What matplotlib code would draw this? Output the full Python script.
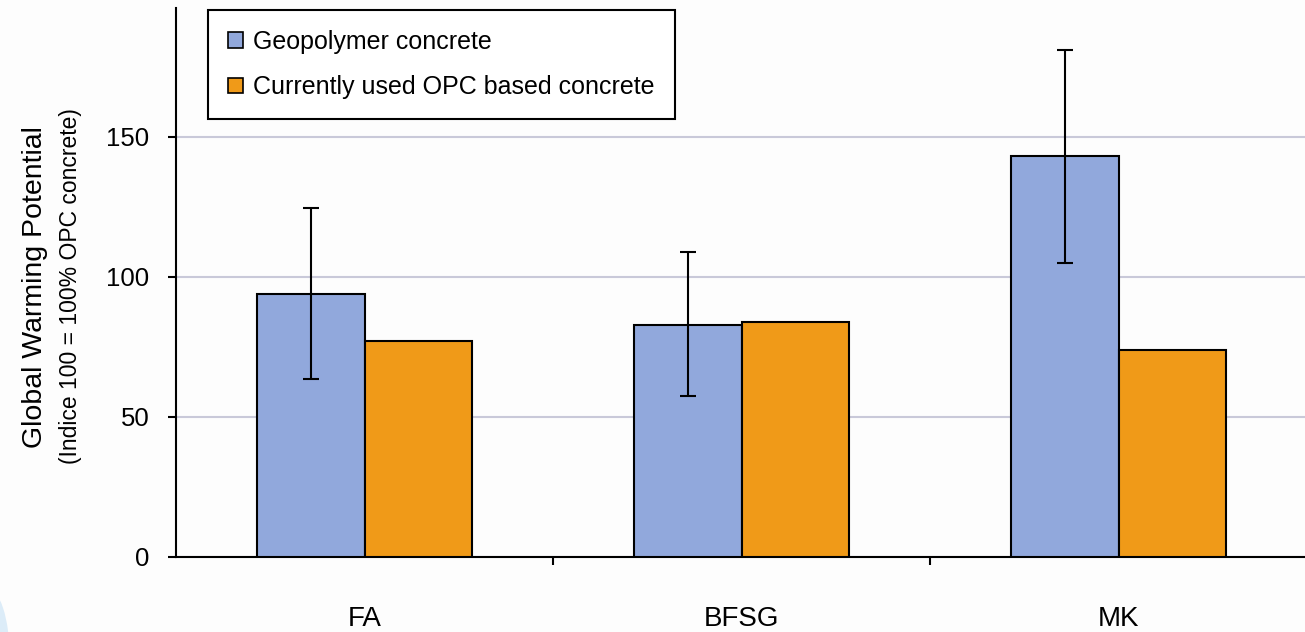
import numpy as np
import matplotlib
matplotlib.use("Agg")
import matplotlib.pyplot as plt
from matplotlib.patches import Ellipse, Patch

plt.rcParams['font.family'] = ['Liberation Sans', 'DejaVu Sans']

categories = ['FA', 'BFSG', 'MK']
geopolymer = [94, 83, 143]
geo_low = [63.5, 57.5, 105]
geo_high = [124.5, 109, 181]
opc = [77, 84, 74]

blue = '#91a8dc'
orange = '#f09a18'

fig = plt.figure(figsize=(13.05, 6.32), dpi=100)
fig.patch.set_facecolor('#fdfdfd')

# faint swirl in the lower left corner
fig.patches.append(Ellipse((-0.01, -0.04), 0.035, 0.22, transform=fig.transFigure,
                           facecolor='#dcecf8', edgecolor='none', zorder=0))

ax = fig.add_axes([176 / 1305, 75 / 632, 1131 / 1305, 549 / 632])
ax.set_facecolor('none')

x = np.arange(len(categories))
w = 0.285
geo = np.array(geopolymer)
yerr = [geo - np.array(geo_low), np.array(geo_high) - geo]

ax.bar(x - w / 2, geopolymer, w, color=blue, edgecolor='black', linewidth=1.5, zorder=3)
ax.bar(x + w / 2, opc, w, color=orange, edgecolor='black', linewidth=1.5, zorder=3)
ax.errorbar(x - w / 2, geopolymer, yerr=yerr, fmt='none', ecolor='black',
            elinewidth=1.5, capsize=6, capthick=1.5, zorder=4)

ax.set_xlim(-0.5, 2.5)
ax.set_ylim(0, 196)
ax.set_yticks([0, 50, 100, 150])
ax.yaxis.grid(True, color='#c9c9d9', linewidth=1.5, zorder=0)
ax.set_axisbelow(True)

ax.set_xticks([0.5, 1.5])
ax.set_xticklabels([])
ax.set_xticks(x, minor=True)
ax.set_xticklabels(categories, minor=True, fontsize=20)
ax.tick_params(axis='x', which='minor', length=0, pad=35)
ax.tick_params(axis='x', which='major', length=6, width=1.5, direction='out')
ax.tick_params(axis='y', length=6, width=1.5, labelsize=18.5, pad=13)

for s in ['top', 'right']:
    ax.spines[s].set_visible(False)
for s in ['left', 'bottom']:
    ax.spines[s].set_linewidth(1.5)

fig.text(35 / 1305, 1 - 287 / 632, 'Global Warming Potential', rotation=90,
         ha='center', va='center', fontsize=20.5)
fig.text(71 / 1305, 1 - 286 / 632, '(Indice 100 = 100% OPC concrete)', rotation=90,
         ha='center', va='center', fontsize=16.5)

handles = [Patch(facecolor=blue, edgecolor='black', linewidth=1.2),
           Patch(facecolor=orange, edgecolor='black', linewidth=1.2)]
leg = ax.legend(handles, ['Geopolymer concrete', 'Currently used OPC based concrete'],
                loc='upper left', bbox_to_anchor=(208 / 1305, 1 - 10 / 632),
                bbox_transform=fig.transFigure, fontsize=18, fancybox=False,
                framealpha=1, edgecolor='black', handlelength=0.6, handleheight=0.6,
                handletextpad=0.4, labelspacing=0.85, borderpad=0.8, borderaxespad=0)
leg.get_frame().set_linewidth(1.5)

fig.savefig('out.png', dpi=100, facecolor=fig.get_facecolor())
